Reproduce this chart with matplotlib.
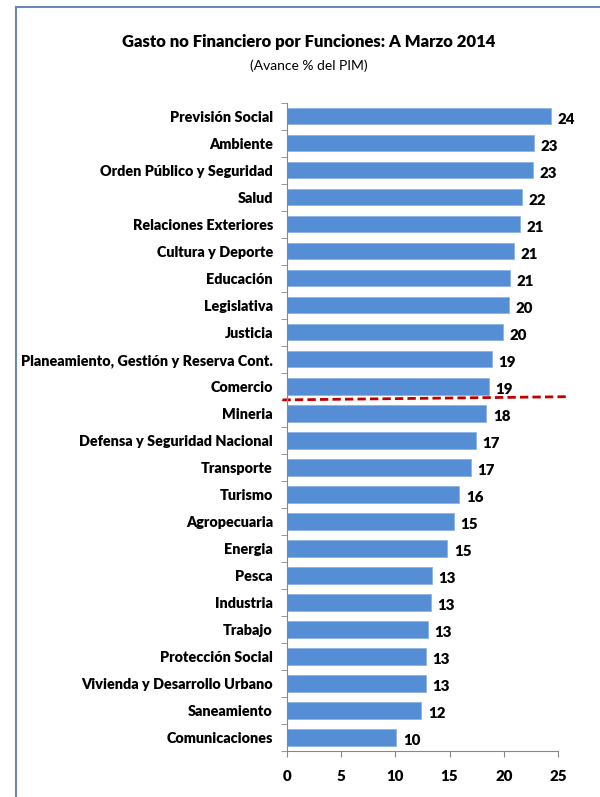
import matplotlib.pyplot as plt
from matplotlib.lines import Line2D

# Data, top to bottom
categorias = [
    "Previsión Social", "Ambiente", "Orden Público y Seguridad", "Salud",
    "Relaciones Exteriores", "Cultura y Deporte", "Educación", "Legislativa",
    "Justicia", "Planeamiento, Gestión y Reserva Cont.", "Comercio", "Mineria",
    "Defensa y Seguridad Nacional", "Transporte", "Turismo", "Agropecuaria",
    "Energia", "Pesca", "Industria", "Trabajo", "Protección Social",
    "Vivienda y Desarrollo Urbano", "Saneamiento", "Comunicaciones",
]
avance = [24.4, 22.8, 22.7, 21.7, 21.5, 20.9, 20.6, 20.5, 19.9, 18.9, 18.6, 18.4,
          17.4, 17.0, 15.9, 15.4, 14.8, 13.4, 13.3, 13.0, 12.8, 12.8, 12.4, 10.1]
etiquetas = ["24", "23", "23", "22", "21", "21", "21", "20", "20", "19", "19", "18",
             "17", "17", "16", "15", "15", "13", "13", "13", "13", "13", "12", "10"]
xticks = [0, 5, 10, 15, 20, 25]

plt.rcParams['font.family'] = ['Lato', 'DejaVu Sans']

fig = plt.figure(figsize=(6, 7.97), dpi=100)
ax = fig.add_axes([0.478, 0.0577, 0.452, 0.8133])

n = len(categorias)
ypos = list(range(n))[::-1]
ax.barh(ypos, avance, height=0.6, color='#558ED5', edgecolor='#8DB4E2', linewidth=0.6)

for y, v, t in zip(ypos, avance, etiquetas):
    ax.text(v + 0.6, y - 0.12, t, va='center', ha='left', fontsize=10.8, fontweight='heavy')

ax.set_xlim(0, 25)
ax.set_ylim(-0.5, n - 0.5)
ax.set_xticks(xticks)
ax.set_xticklabels([str(x) for x in xticks], fontsize=10.8, fontweight='heavy')
ax.set_yticks(ypos)
ax.set_yticklabels(categorias, fontsize=10.4, fontweight='heavy')
ax.tick_params(axis='y', length=0, pad=10)
ax.tick_params(axis='x', length=4, color='#888888', pad=10, direction='out')
# Excel-style category boundary ticks
ax.set_yticks([i - 0.5 for i in range(n + 1)], minor=True)
ax.tick_params(axis='y', which='minor', length=4, color='#888888', direction='out')

for s in ['top', 'right']:
    ax.spines[s].set_visible(False)
for s in ['left', 'bottom']:
    ax.spines[s].set_color('#888888')
    ax.spines[s].set_linewidth(0.8)

# red dashed separator between Comercio and Mineria
ax.plot([-0.4, 26.1], [12.5, 12.62], color='#C00000', linestyle='--',
        linewidth=2.0, dashes=(3, 1.5), clip_on=False)

fig.text(0.515, 0.947, "Gasto no Financiero por Funciones: A Marzo 2014",
         ha='center', va='center', fontsize=12, fontweight='heavy')
fig.text(0.515, 0.918, "(Avance % del PIM)", ha='center', va='center', fontsize=10)

# frame around the chart (top and left edges)
fig.add_artist(Line2D([0.026, 1.0], [0.991, 0.991], transform=fig.transFigure,
                      color='#6A8AB0', linewidth=1.5))
fig.add_artist(Line2D([0.026, 0.026], [0.0, 0.991], transform=fig.transFigure,
                      color='#6A8AB0', linewidth=1.5))

fig.savefig('out.png', dpi=100)
